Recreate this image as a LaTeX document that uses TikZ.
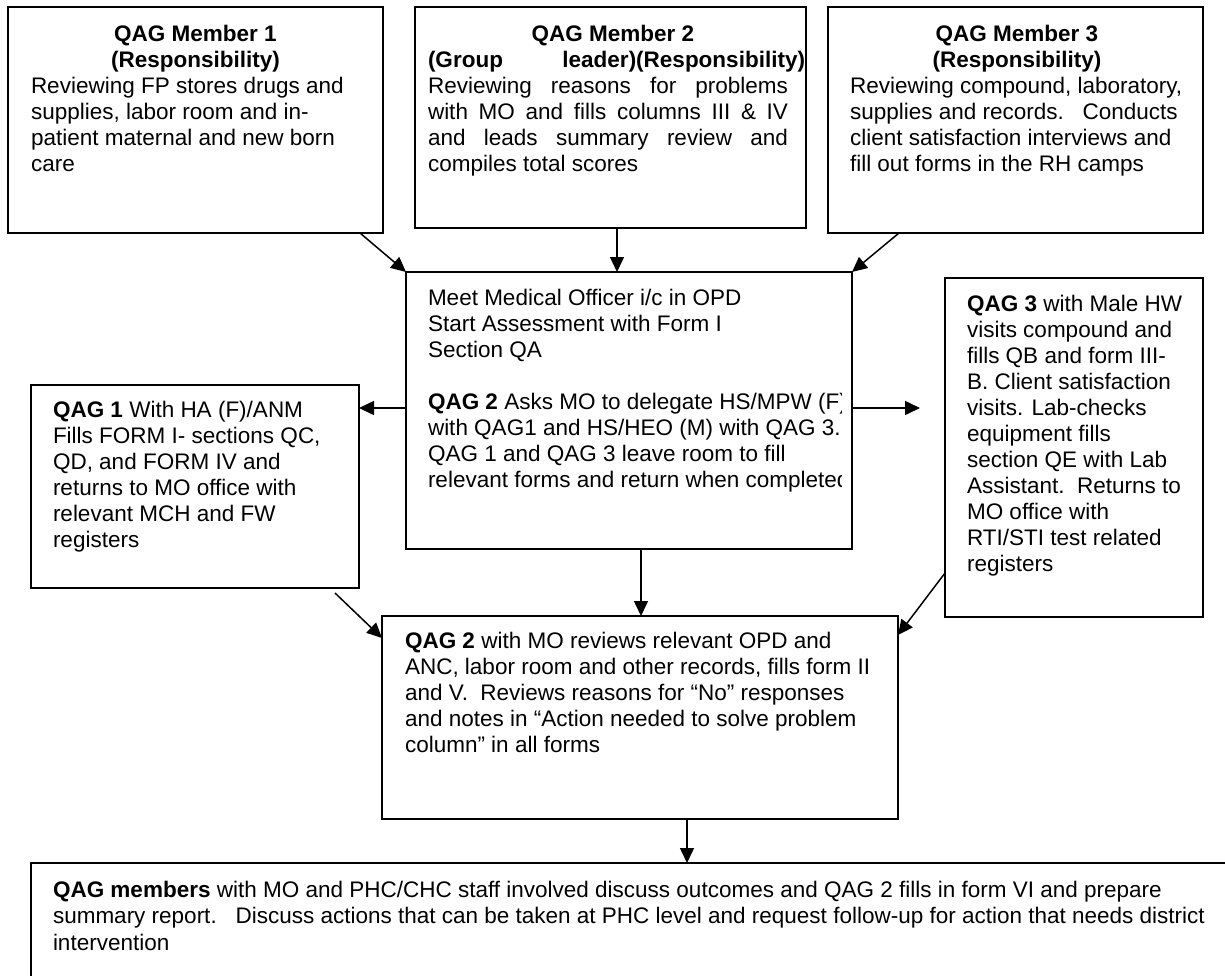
\documentclass[tikz,border=0pt]{standalone}
\usepackage{fontspec}
\setmainfont{Liberation Sans}
\usetikzlibrary{arrows.meta,calc}
\begin{document}
\begin{tikzpicture}[x=1pt,y=-1pt,
  every node/.style={font=\fontsize{22.5}{26}\selectfont},
  flowbox/.style={draw,line width=1.8pt,inner sep=0pt,outer sep=0pt,anchor=north west},
  txt/.style={inner sep=0pt,outer sep=0pt,anchor=base west,align=left},
  arr/.style={line width=1.5pt,-{Triangle[length=15pt,width=14pt]}}]
\fill[white] (0,0) rectangle (1225,975);
\useasboundingbox (0,0) rectangle (1225,975);
\clip (0,0) rectangle (1225,975);
% boxes
\node[flowbox,minimum width=375pt,minimum height=226pt] (b1) at (8,7) {};
\node[flowbox,minimum width=391pt,minimum height=221pt] (b2) at (415,7) {};
\node[flowbox,minimum width=375pt,minimum height=226pt] (b3) at (828,7) {};
\node[flowbox,minimum width=446pt,minimum height=277pt] (c) at (406,272) {};
\node[flowbox,minimum width=328pt,minimum height=203pt] (q1) at (31,385) {};
\node[flowbox,minimum width=258pt,minimum height=339pt] (q3) at (945,278) {};
\node[flowbox,minimum width=516pt,minimum height=203pt] (l) at (382,616) {};
\node[flowbox,minimum width=1300pt,minimum height=200pt] (f) at (31,863) {};
% texts
\node[txt] (t1) at (31,41) {\parbox[t]{500pt}{\raggedright
\makebox[329pt][c]{\bfseries QAG Member 1}\\
\makebox[329pt][c]{\bfseries (Responsibility)}\\
Reviewing FP stores drugs and\\
supplies, labor room and in-\\
patient maternal and new born\\
care}};
\node[txt] (t2) at (428,41) {\parbox[t]{500pt}{\raggedright
\makebox[370pt][c]{\bfseries QAG Member 2}\\
\makebox[377pt][s]{\bfseries (Group leader)(Responsibility)}\\
\makebox[360pt][s]{Reviewing reasons for problems}\\
\makebox[360pt][s]{with MO and fills columns III \& IV}\\
\makebox[360pt][s]{and leads summary review and}\\
compiles total scores}};
\node[txt] (t3) at (850,41) {\parbox[t]{500pt}{\raggedright
\makebox[334pt][c]{\bfseries QAG Member 3}\\
\makebox[334pt][c]{\bfseries (Responsibility)}\\
Reviewing compound, laboratory,\\
supplies and records.\ \ \ Conducts\\
client satisfaction interviews and\\
fill out forms in the RH camps}};
\begin{scope}
\clip (406,272) rectangle (841,549);
\node[txt] (tc) at (428,305) {\parbox[t]{600pt}{\raggedright
Meet Medical Officer i/c in OPD\\
Start Assessment with Form I\\
Section QA\\[26pt]
\textbf{QAG 2} Asks MO to delegate HS/MPW (F)\\
with QAG1 and HS/HEO (M) with QAG 3.\\
QAG 1 and QAG 3 leave room to fill\\
relevant forms and return when completed}};
\end{scope}
\node[txt] (tq1) at (53,417) {\parbox[t]{500pt}{\raggedright
\textbf{QAG 1} With HA (F)/ANM\\
Fills FORM I- sections QC,\\
QD, and FORM IV and\\
returns to MO office with\\
relevant MCH and FW\\
registers}};
\node[txt] (tq3) at (967,311) {\parbox[t]{500pt}{\raggedright
\textbf{QAG 3} with Male HW\\
visits compound and\\
fills QB and form III-\\
B. Client satisfaction\\
visits. Lab-checks\\
equipment fills\\
section QE with Lab\\
Assistant.\ \ Returns to\\
MO office with\\
RTI/STI test related\\
registers}};
\node[txt] (tl) at (405,648) {\parbox[t]{600pt}{\raggedright
\textbf{QAG 2} with MO reviews relevant OPD and\\
ANC, labor room and other records, fills form II\\
and V.\ \ Reviews reasons for “No” responses\\
and notes in “Action needed to solve problem\\
column” in all forms}};
\node[txt] (tf) at (53,897) {\parbox[t]{1300pt}{\raggedright\fontsize{22.5}{26.5}\selectfont
\textbf{QAG members} with MO and PHC/CHC staff involved discuss outcomes and QAG 2 fills in form VI and prepare\\
summary report.\ \ \ Discuss actions that can be taken at PHC level and request follow-up for action that needs district\\
intervention}};
% connectors
\draw[arr] ($(b1.south east)+(-23,0)$) -- (c.north west);
\draw[arr] ($(b2.south west)+(202,0)$) -- ($(c.north west)+(211,0)$);
\draw[arr] ($(b3.south west)+(71,0)$) -- (c.north east);
\draw[arr] ($(c.north west)+(0,136)$) -- ($(q1.north east)+(0,23)$);
\draw[arr] ($(c.north east)+(0,136)$) -- ($(q3.north west)+(-25,130)$);
\draw[arr] ($(c.south west)+(235,0)$) -- ($(l.north west)+(259,0)$);
\draw[arr] ($(q1.south east)+(-24,5)$) -- ($(l.north west)+(0,22)$);
\draw[arr] ($(q3.south west)+(0,-44)$) -- ($(l.north east)+(0,19)$);
\draw[arr] ($(l.south west)+(305,0)$) -- ($(f.north west)+(656,0)$);
\end{tikzpicture}
\end{document}
